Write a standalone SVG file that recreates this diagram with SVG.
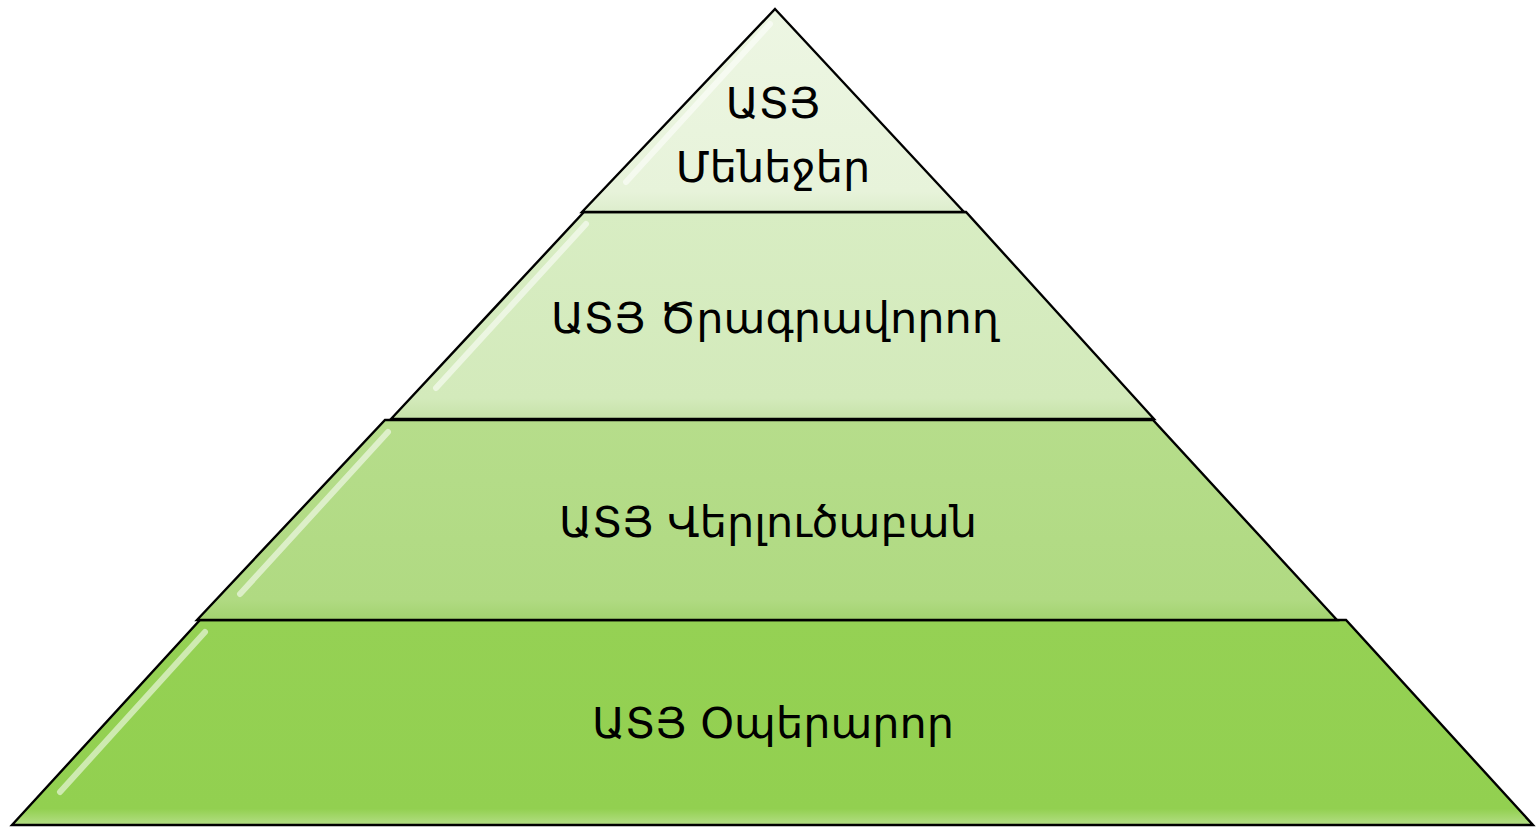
<svg xmlns="http://www.w3.org/2000/svg" width="1540" height="828" viewBox="0 0 1540 828">
<style>
.layer{stroke:#000;stroke-width:2.4;stroke-linejoin:miter}
.gloss{fill:none;stroke:#fff;stroke-width:6;stroke-linecap:round;opacity:0.55}
.lbl{font-family:"DejaVu Sans","Noto Sans",sans-serif;font-size:43px;fill:#000;text-anchor:middle}
</style>
<defs>
<linearGradient id="g1" x1="0" y1="0" x2="0" y2="1"><stop offset="0" stop-color="#EDF6E3"/><stop offset="0.9" stop-color="#E7F3DA"/><stop offset="1" stop-color="#DDEDCC"/></linearGradient>
<linearGradient id="g2" x1="0" y1="0" x2="0" y2="1"><stop offset="0" stop-color="#D8EDC3"/><stop offset="0.9" stop-color="#D3EABB"/><stop offset="1" stop-color="#C6E2A8"/></linearGradient>
<linearGradient id="g3" x1="0" y1="0" x2="0" y2="1"><stop offset="0" stop-color="#B6DD8B"/><stop offset="0.9" stop-color="#B0DA82"/><stop offset="1" stop-color="#A2D26F"/></linearGradient>
<linearGradient id="g4" x1="0" y1="0" x2="0" y2="1"><stop offset="0" stop-color="#95D154"/><stop offset="0.92" stop-color="#92D050"/><stop offset="1" stop-color="#B4DE86"/></linearGradient>
</defs>
<g id="layer4">
<path class="layer" fill="url(#g4)" d="M200,620 L1346,620 L1533,825 L12,825 Z"/>
<path class="gloss" d="M205,632 L60,792"/>
<text class="lbl" x="773" y="738">ԱՏՅ Օպերարոր</text>
</g>
<g id="layer3">
<path class="layer" fill="url(#g3)" d="M385,420 L1153,420 L1337,620 L197,620 Z"/>
<path class="gloss" d="M388,432 L240,594"/>
<text class="lbl" x="768" y="537">ԱՏՅ Վերլուծաբան</text>
</g>
<g id="layer2">
<path class="layer" fill="url(#g2)" d="M584,212 L966,212 L1154,419 L391,419 Z"/>
<path class="gloss" d="M586,224 L436,388"/>
<text class="lbl" x="775" y="333">ԱՏՅ Ծրագրավորող</text>
</g>
<g id="layer1">
<path class="layer" fill="url(#g1)" d="M775,9 L964,212 L582,212 Z"/>
<path class="gloss" d="M770,24 L626,182"/>
<text class="lbl" x="773" y="118">ԱՏՅ</text>
<text class="lbl" x="773" y="182">Մենեջեր</text>
</g>
</svg>
